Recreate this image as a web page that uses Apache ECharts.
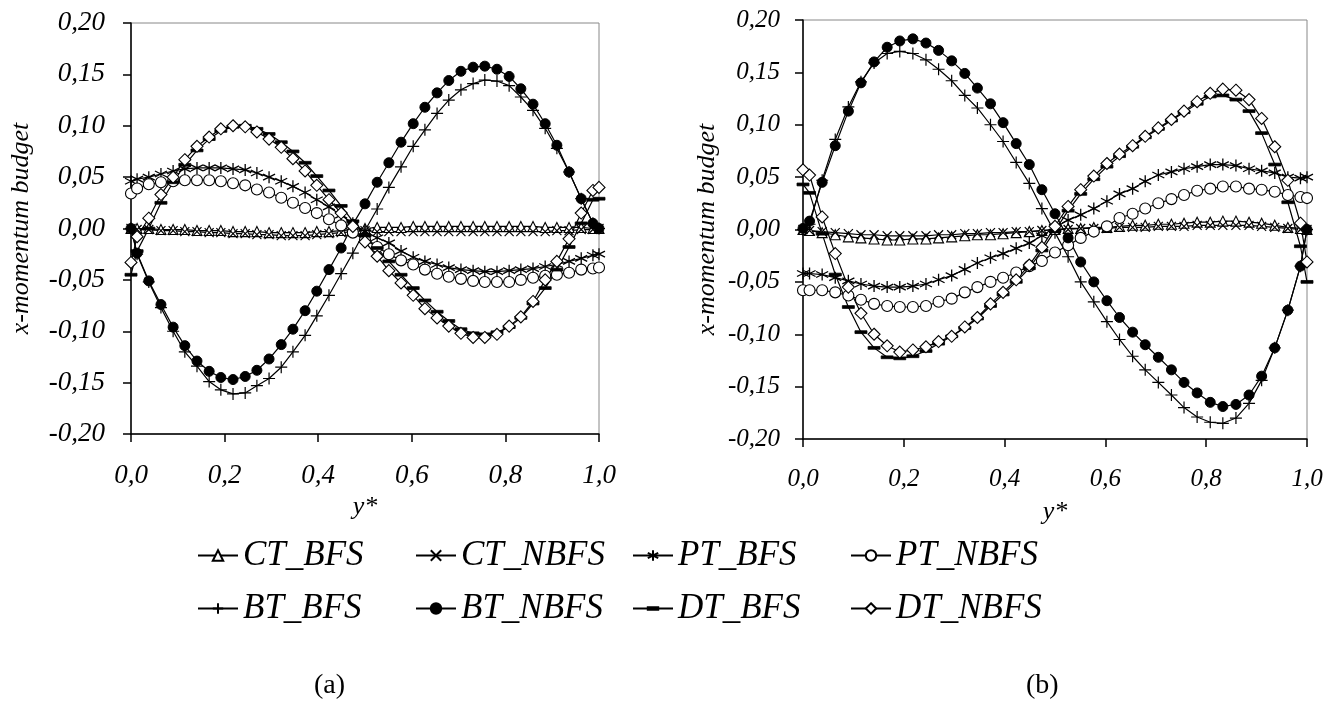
<!DOCTYPE html>
<html>
<head>
<meta charset="utf-8">
<script src="https://cdn.jsdelivr.net/npm/echarts@6/dist/echarts.min.js"></script>
<style>
  html, body { margin: 0; padding: 0; background: #fff; }
  #chart { width: 1334px; height: 703px; }
</style>
</head>
<body>
<div id="chart"></div>
<script>
// y* positions (walls + cell centres)
const yStar = [0, 0.013, 0.038, 0.064, 0.090, 0.115, 0.141, 0.167, 0.192, 0.218, 0.244, 0.269, 0.295, 0.321, 0.346, 0.372, 0.397, 0.423, 0.449, 0.474, 0.500, 0.526, 0.551, 0.577, 0.603, 0.628, 0.654, 0.679, 0.705, 0.731, 0.756, 0.782, 0.808, 0.833, 0.859, 0.885, 0.910, 0.936, 0.962, 0.987, 1];

const seriesNames = ['CT_BFS', 'CT_NBFS', 'PT_BFS', 'PT_NBFS', 'BT_BFS', 'BT_NBFS', 'DT_BFS', 'DT_NBFS'];
const panelLabels = ['(a)', '(b)'];

// panel (a)
const ctBfsA = [0, 0, 0, -0.001, -0.001, -0.001, -0.002, -0.002, -0.002, -0.003, -0.003, -0.003, -0.004, -0.004, -0.004, -0.004, -0.003, -0.003, -0.002, -0.001, 0, 0.001, 0.001, 0.001, 0.002, 0.002, 0.002, 0.002, 0.002, 0.002, 0.002, 0.002, 0.002, 0.002, 0.002, 0.001, 0.001, 0.001, 0.001, 0, 0];
const ctNbfsA = [0, -0.001, -0.001, -0.002, -0.002, -0.003, -0.003, -0.004, -0.004, -0.005, -0.005, -0.006, -0.006, -0.007, -0.007, -0.007, -0.006, -0.005, -0.004, -0.003, -0.002, -0.003, -0.003, -0.003, -0.003, -0.003, -0.003, -0.003, -0.003, -0.003, -0.003, -0.003, -0.003, -0.003, -0.003, -0.003, -0.002, -0.002, -0.001, -0.001, 0];
const ptBfsA = [0.046, 0.048, 0.050, 0.053, 0.056, 0.058, 0.059, 0.059, 0.059, 0.058, 0.057, 0.054, 0.050, 0.046, 0.041, 0.035, 0.028, 0.021, 0.013, 0.005, -0.003, -0.009, -0.014, -0.022, -0.028, -0.032, -0.035, -0.038, -0.040, -0.041, -0.042, -0.042, -0.041, -0.040, -0.039, -0.037, -0.035, -0.032, -0.029, -0.026, -0.025];
const ptNbfsA = [0.034, 0.039, 0.043, 0.045, 0.046, 0.047, 0.047, 0.047, 0.046, 0.044, 0.042, 0.038, 0.035, 0.030, 0.025, 0.020, 0.015, 0.009, 0.003, -0.004, -0.011, -0.018, -0.025, -0.031, -0.035, -0.040, -0.044, -0.047, -0.049, -0.051, -0.052, -0.052, -0.052, -0.050, -0.048, -0.046, -0.045, -0.043, -0.040, -0.039, -0.038];
const btBfsA = [0, -0.025, -0.052, -0.077, -0.100, -0.120, -0.134, -0.149, -0.157, -0.161, -0.160, -0.153, -0.146, -0.135, -0.120, -0.104, -0.085, -0.065, -0.044, -0.024, -0.002, 0.019, 0.040, 0.060, 0.080, 0.096, 0.112, 0.125, 0.135, 0.141, 0.1445, 0.1435, 0.139, 0.128, 0.115, 0.0975, 0.078, 0.055, 0.029, 0.005, 0];
const btNbfsA = [0, -0.024, -0.051, -0.074, -0.096, -0.114, -0.129, -0.139, -0.145, -0.147, -0.144, -0.138, -0.127, -0.113, -0.098, -0.080, -0.061, -0.040, -0.019, 0.004, 0.024, 0.045, 0.064, 0.084, 0.102, 0.118, 0.132, 0.144, 0.153, 0.157, 0.158, 0.155, 0.148, 0.136, 0.121, 0.102, 0.081, 0.055, 0.029, 0.005, 0];
const dtBfsA = [-0.045, -0.022, 0.000, 0.025, 0.045, 0.062, 0.076, 0.087, 0.095, 0.099, 0.100, 0.097, 0.092, 0.084, 0.075, 0.064, 0.051, 0.037, 0.022, 0.007, -0.007, -0.019, -0.032, -0.045, -0.058, -0.070, -0.081, -0.090, -0.098, -0.102, -0.103, -0.101, -0.096, -0.087, -0.073, -0.058, -0.040, -0.018, 0.005, 0.028, 0.029];
const dtNbfsA = [-0.033, -0.008, 0.010, 0.033, 0.050, 0.067, 0.080, 0.089, 0.097, 0.100, 0.099, 0.094, 0.087, 0.079, 0.068, 0.056, 0.042, 0.028, 0.015, 0.002, -0.013, -0.027, -0.041, -0.053, -0.065, -0.078, -0.087, -0.095, -0.102, -0.106, -0.106, -0.103, -0.095, -0.086, -0.071, -0.050, -0.032, -0.010, 0.015, 0.037, 0.040];

// panel (b)
const ctBfsB = [0, -0.001, -0.003, -0.005, -0.007, -0.008, -0.009, -0.010, -0.010, -0.009, -0.009, -0.008, -0.007, -0.006, -0.005, -0.005, -0.004, -0.003, -0.002, -0.001, 0, 0.001, 0.001, 0.002, 0.002, 0.003, 0.004, 0.004, 0.005, 0.005, 0.006, 0.007, 0.007, 0.008, 0.008, 0.007, 0.006, 0.004, 0.002, 0.001, 0];
const ctNbfsB = [0, -0.001, -0.002, -0.003, -0.004, -0.005, -0.005, -0.006, -0.006, -0.006, -0.006, -0.005, -0.005, -0.004, -0.004, -0.003, -0.003, -0.002, -0.002, -0.001, 0, 0, 0.001, 0.001, 0.001, 0.002, 0.002, 0.002, 0.003, 0.003, 0.003, 0.004, 0.004, 0.004, 0.004, 0.004, 0.003, 0.002, 0.001, 0, 0];
const ptBfsB = [-0.042, -0.042, -0.043, -0.046, -0.049, -0.052, -0.054, -0.055, -0.055, -0.054, -0.052, -0.048, -0.044, -0.038, -0.032, -0.027, -0.023, -0.018, -0.013, -0.006, 0.002, 0.009, 0.014, 0.020, 0.027, 0.034, 0.039, 0.046, 0.052, 0.055, 0.058, 0.060, 0.062, 0.062, 0.061, 0.058, 0.056, 0.054, 0.050, 0.049, 0.050];
const ptNbfsB = [-0.058, -0.058, -0.058, -0.060, -0.063, -0.067, -0.071, -0.073, -0.074, -0.074, -0.073, -0.069, -0.066, -0.060, -0.055, -0.050, -0.046, -0.041, -0.035, -0.030, -0.022, -0.015, -0.008, -0.002, 0.003, 0.011, 0.015, 0.020, 0.025, 0.029, 0.033, 0.037, 0.039, 0.041, 0.041, 0.039, 0.038, 0.036, 0.033, 0.031, 0.030];
const btBfsB = [0, 0.005, 0.047, 0.086, 0.117, 0.141, 0.159, 0.168, 0.170, 0.168, 0.162, 0.153, 0.142, 0.128, 0.116, 0.100, 0.084, 0.064, 0.044, 0.020, -0.003, -0.026, -0.050, -0.069, -0.088, -0.105, -0.121, -0.134, -0.146, -0.158, -0.170, -0.179, -0.184, -0.185, -0.180, -0.166, -0.144, -0.113, -0.077, -0.035, 0];
const btNbfsB = [0.001, 0.008, 0.045, 0.080, 0.113, 0.140, 0.160, 0.174, 0.180, 0.182, 0.178, 0.171, 0.161, 0.149, 0.135, 0.120, 0.102, 0.082, 0.062, 0.038, 0.015, -0.008, -0.031, -0.050, -0.068, -0.084, -0.098, -0.110, -0.122, -0.134, -0.146, -0.156, -0.165, -0.169, -0.167, -0.158, -0.140, -0.113, -0.077, -0.035, 0];
const dtBfsB = [0.043, 0.035, -0.004, -0.043, -0.074, -0.098, -0.113, -0.122, -0.123, -0.121, -0.116, -0.109, -0.102, -0.094, -0.085, -0.073, -0.062, -0.050, -0.037, -0.020, -0.001, 0.018, 0.034, 0.048, 0.060, 0.070, 0.079, 0.088, 0.096, 0.104, 0.112, 0.120, 0.127, 0.128, 0.124, 0.113, 0.092, 0.062, 0.026, -0.016, -0.050];
const dtNbfsB = [0.057, 0.052, 0.012, -0.023, -0.055, -0.080, -0.100, -0.111, -0.117, -0.115, -0.112, -0.107, -0.102, -0.093, -0.084, -0.071, -0.060, -0.048, -0.034, -0.017, 0.003, 0.022, 0.038, 0.051, 0.063, 0.072, 0.080, 0.089, 0.097, 0.105, 0.113, 0.122, 0.130, 0.134, 0.133, 0.124, 0.106, 0.079, 0.047, 0.006, -0.031];

const panelA = [ctBfsA, ctNbfsA, ptBfsA, ptNbfsA, btBfsA, btNbfsA, dtBfsA, dtNbfsA];
const panelB = [ctBfsB, ctNbfsB, ptBfsB, ptNbfsB, btBfsB, btNbfsB, dtBfsB, dtNbfsB];

const FONT = 'Liberation Serif';

// marker look per series (Excel-like)
const markers = {
  CT_BFS:  { symbol: 'triangle', size: 10, fill: '#fff', bw: 1.1 },
  CT_NBFS: { symbol: 'path://M0,0L10,10M10,0L0,10', size: 9, fill: '#000', bw: 1.2 },
  PT_BFS:  { symbol: 'path://M5,0L5,10M0.7,2.5L9.3,7.5M9.3,2.5L0.7,7.5', size: 12, fill: '#000', bw: 1.3 },
  PT_NBFS: { symbol: 'circle', size: 11, fill: '#fff', bw: 1.1 },
  BT_BFS:  { symbol: 'path://M5,0L5,10M0,5L10,5', size: 12, fill: '#000', bw: 1.2 },
  BT_NBFS: { symbol: 'circle', size: 10, fill: '#000', bw: 1 },
  DT_BFS:  { symbol: 'path://M0,0M0,12M0,4.6L12,4.6L12,7.4L0,7.4Z', size: 12, fill: '#000', bw: 0.8 },
  DT_NBFS: { symbol: 'diamond', size: 12, fill: '#fff', bw: 1.1 }
};

const chart = echarts.init(document.getElementById('chart'), null, { renderer: 'canvas' });

const fmtY = v => (Math.abs(v) < 1e-9 ? 0 : v).toFixed(2).replace('.', ',');
const fmtX = v => v.toFixed(1).replace('.', ',');

function makeSeries(name, values, g) {
  const m = markers[name];
  return {
    name: name,
    type: 'line',
    xAxisIndex: g,
    yAxisIndex: g,
    data: yStar.map((x, i) => [x, values[i]]),
    symbol: m.symbol,
    symbolSize: m.size,
    showAllSymbol: true,
    lineStyle: { color: '#000', width: 1.2 },
    itemStyle: { color: m.fill, borderColor: '#000', borderWidth: m.bw },
    emphasis: { disabled: true },
    animation: false
  };
}

function makeX(g, labelSize) {
  return {
    type: 'value', gridIndex: g, min: 0, max: 1, interval: 0.2,
    name: 'y*', nameLocation: 'middle', nameGap: 60,
    nameTextStyle: { fontFamily: FONT, fontStyle: 'italic', fontSize: 26, color: '#000' },
    axisLine: { show: true, onZero: false, lineStyle: { color: '#000', width: 1.5 } },
    axisTick: { show: true, length: 8, lineStyle: { color: '#000', width: 1.5 } },
    axisLabel: { fontFamily: FONT, fontStyle: 'italic', fontSize: labelSize, color: '#000', margin: 28, formatter: fmtX },
    splitLine: { show: false }
  };
}

function makeY(g, labelSize, labelMargin, nameGap) {
  return {
    type: 'value', gridIndex: g, min: -0.2, max: 0.2, interval: 0.05,
    name: 'x-momentum budget', nameLocation: 'middle', nameGap: nameGap,
    nameTextStyle: { fontFamily: FONT, fontStyle: 'italic', fontSize: 26, color: '#000' },
    axisLine: { show: true, onZero: false, lineStyle: { color: '#000', width: 1.5 } },
    axisTick: { show: true, length: 8, lineStyle: { color: '#000', width: 1.5 } },
    axisLabel: { fontFamily: FONT, fontStyle: 'italic', fontSize: labelSize, color: '#000', margin: labelMargin, formatter: fmtY },
    splitLine: { show: false }
  };
}

// legend laid out in fixed columns, two rows of four
const legendCols = [192, 410, 627, 845];
const legendRows = [533, 586];
const legends = seriesNames.map((n, i) => ({
  data: [n],
  left: legendCols[i % 4],
  top: legendRows[Math.floor(i / 4)],
  itemWidth: 40, itemHeight: 13, selectedMode: false,
  textStyle: { fontFamily: FONT, fontStyle: 'italic', fontSize: 35, color: '#000' }
}));

const option = {
  backgroundColor: '#fff',
  animation: false,
  grid: [
    { left: 131, top: 23, width: 468, height: 411, show: true, borderColor: '#888', borderWidth: 1 },
    { left: 803, top: 20, width: 504, height: 419, show: true, borderColor: '#888', borderWidth: 1 }
  ],
  xAxis: [makeX(0, 27), makeX(1, 25)],
  yAxis: [makeY(0, 27, 26, 97), makeY(1, 25, 23, 83)],
  legend: legends,
  graphic: [
    { type: 'text', left: 314, top: 672, style: { text: panelLabels[0], font: '28px "Liberation Serif"', fill: '#000' } },
    { type: 'text', left: 1026, top: 672, style: { text: panelLabels[1], font: '28px "Liberation Serif"', fill: '#000' } }
  ],
  series: [
    ...seriesNames.map((n, i) => makeSeries(n, panelA[i], 0)),
    ...seriesNames.map((n, i) => makeSeries(n, panelB[i], 1))
  ]
};

chart.setOption(option);
</script>
</body>
</html>
